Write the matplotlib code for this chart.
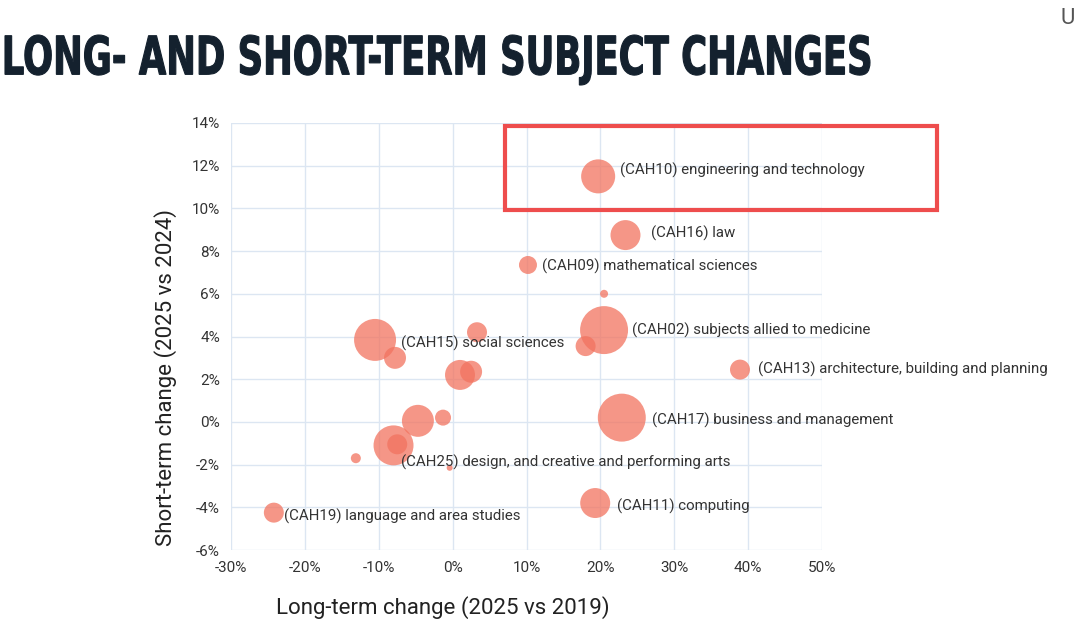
import matplotlib.pyplot as plt
from matplotlib.patches import Rectangle, PathPatch
from matplotlib.textpath import TextPath
from matplotlib.font_manager import FontProperties
from matplotlib.transforms import Affine2D, IdentityTransform
from matplotlib.ticker import PercentFormatter

# long-term change (%), short-term change (%), bubble size, label
long_term = [19.7, 23.4, 10.2, 20.5, 20.5, 18.0, -10.5, -7.8, 3.3, 1.0, 2.5,
             38.9, 22.9, -4.7, -1.3, -8.0, -7.5, -13.1, -0.4, 19.3, -24.2]
short_term = [11.5, 8.75, 7.35, 6.0, 4.3, 3.55, 3.84, 3.0, 4.2, 2.2, 2.35,
              2.45, 0.2, 0.05, 0.2, -1.1, -1.05, -1.7, -2.15, -3.8, -4.25]
size = [290, 225, 81, 16, 576, 100, 441, 121, 100, 225, 121,
        100, 576, 256, 64, 400, 100, 25, 9, 225, 100]
labels = ["(CAH10) engineering and technology", "(CAH16) law",
          "(CAH09) mathematical sciences", "", "(CAH02) subjects allied to medicine",
          "", "(CAH15) social sciences", "", "", "", "",
          "(CAH13) architecture, building and planning",
          "(CAH17) business and management", "", "", "",
          "(CAH25) design, and creative and performing arts", "", "",
          "(CAH11) computing", "(CAH19) language and area studies"]

# label offsets in pixels (dx, dy)
offsets = {0: (22, 6), 1: (26, 2), 2: (14, -1), 4: (28, 0), 6: (26, -3),
           11: (18, 0), 12: (30, -3), 16: (4, -18), 19: (22, -3), 20: (10, -4)}

plt.rcParams['font.family'] = ['Roboto', 'DejaVu Sans']
plt.rcParams['axes.unicode_minus'] = False

fig = plt.figure(figsize=(10.8, 6.43), dpi=100)
ax = fig.add_axes([231/1080, 1-550/643, 591/1080, 427/643])

ax.scatter(long_term, short_term, s=[v*2.07 for v in size], color='#F2735F',
           alpha=0.75, linewidths=0, zorder=3)

for i, (dx, dy) in offsets.items():
    ax.annotate(labels[i], (long_term[i], short_term[i]), xytext=(dx, dy),
                textcoords='offset pixels', fontsize=10.8, color='#333333',
                va='center', ha='left', zorder=4)

ax.set_xlim(-30, 50)
ax.set_ylim(-6, 14)
ax.set_xticks(range(-30, 51, 10))
ax.set_yticks(range(-6, 15, 2))
ax.xaxis.set_major_formatter(PercentFormatter(decimals=0))
ax.yaxis.set_major_formatter(PercentFormatter(decimals=0))
ax.grid(True, color='#DCE6F2', linewidth=1, zorder=0)
for sp in ax.spines.values():
    sp.set_visible(False)
ax.tick_params(length=0, labelsize=11, colors='#333333', pad=8)

fig.text(443/1080, 1-608/643, 'Long-term change (2025 vs 2019)', fontsize=16,
         color='#222222', ha='center', va='center')
fig.text(166/1080, 1-378/643, 'Short-term change (2025 vs 2024)', fontsize=16,
         color='#222222', ha='center', va='center', rotation=90)

# highlight box round engineering
ax.add_patch(Rectangle((7.1, 9.93), 58.4, 3.93, fill=False, edgecolor='#EE4D4D',
                       linewidth=3, clip_on=False, zorder=5))

# condensed title: squeeze a bold text path into the title box
tp = TextPath((0, 0), 'LONG- AND SHORT-TERM SUBJECT CHANGES', size=100,
              prop=FontProperties(family='DejaVu Sans', weight='bold'))
ext = tp.get_extents()
tr = (Affine2D().translate(-ext.x0, -ext.y0)
      .scale(865/ext.width, 50/ext.height).translate(5, 643-85))
fig.patches.append(PathPatch(tr.transform_path(tp), facecolor='#14212E',
                             edgecolor='#14212E', linewidth=0.8,
                             transform=IdentityTransform(), figure=fig))

fig.text(1060/1080, 1-18/643, 'U', fontsize=16, color='#555555', va='center', ha='left')

fig.savefig('out.png', dpi=100, facecolor='white')
